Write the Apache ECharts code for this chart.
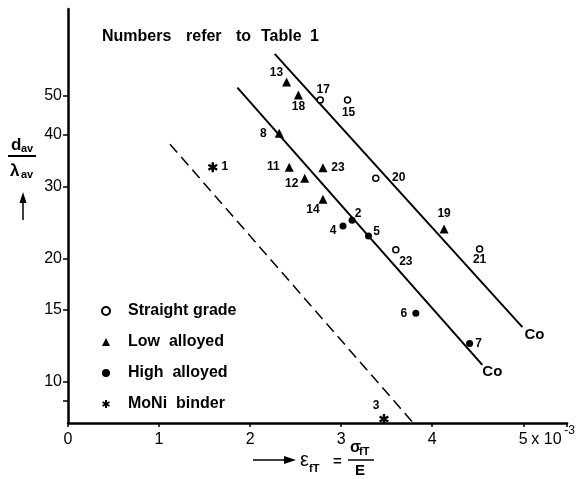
<!DOCTYPE html>
<html>
<head>
<meta charset="utf-8">
<script src="https://cdn.jsdelivr.net/npm/echarts@6/dist/echarts.min.js"></script>
<style>
  html, body { margin: 0; padding: 0; background: #fff; }
  #chart { width: 588px; height: 479px; }
</style>
</head>
<body>
<div id="chart"></div>
<script>
// Straight grade (open circles)
const straightIds = ['17', '15', '20', '23', '21'];
const straightX = [2.77, 3.07, 3.38, 3.60, 4.52];
const straightY = [48.7, 48.7, 31.4, 21.0, 21.1];

// Low alloyed (triangles)
const lowIds = ['13', '18', '8', '11', '12', '23', '14', '19'];
const lowX = [2.40, 2.53, 2.32, 2.43, 2.60, 2.80, 2.80, 4.13];
const lowY = [53.9, 50.1, 40.4, 33.4, 31.4, 33.3, 27.9, 23.6];

// High alloyed (filled circles)
const highIds = ['2', '4', '5', '6', '7'];
const highX = [3.12, 3.02, 3.30, 3.82, 4.41];
const highY = [24.8, 24.0, 22.7, 14.7, 12.4];

// MoNi binder (asterisks)
const moniIds = ['1', '3'];
const moniX = [1.59, 3.47];
const moniY = [33.4, 8.12];

// Trend lines
const upperLineX = [2.27, 4.99];
const upperLineY = [63.1, 13.6];
const middleLineX = [1.86, 4.55];
const middleLineY = [52.2, 11.0];
const dashedLineX = [1.12, 3.79];
const dashedLineY = [38.0, 7.95];

// Axis ticks
const xTicks = [0, 1, 2, 3, 4, 5];
const yTickValues = [9, 10, 15, 20, 30, 40, 50];
const yLabelValues = [10, 15, 20, 30, 40, 50];

// Where each sample number sits relative to its marker [dx, dy]
const labelOffsets = {
  straight: { '17': [3, -10], '15': [1, 13], '20': [23, 0], '23': [10, 12], '21': [0, 11] },
  low: { '13': [-10, -9], '18': [0, 12], '8': [-16, 0], '11': [-16, 0], '12': [-13, 6],
         '23': [15, 0], '14': [-10, 10], '19': [0, -15] },
  high: { '2': [6, -7], '4': [-10, 5], '5': [8, -4], '6': [-12, 0], '7': [9, 0] },
  moni: { '1': [12, 0], '3': [-8, -13] }
};

const FONT = '"Liberation Sans", Arial, sans-serif';
// six-armed asterisk built from three crossing bars
const asterisk = 'path://M-1.2,-5L1.2,-5L1.2,5L-1.2,5Z M3.73,-3.54L4.93,-1.46L-3.73,3.54L-4.93,1.46Z M-4.93,-1.46L-3.73,-3.54L4.93,1.46L3.73,3.54Z';

function points(key, ids, xs, ys) {
  return ids.map((id, i) => ({
    value: [xs[i], ys[i]],
    label: { offset: labelOffsets[key][id] },
    id: id
  }));
}

function pairs(xs, ys) {
  return xs.map((x, i) => [x, ys[i]]);
}

const pointLabel = {
  show: true,
  position: 'inside',
  formatter: p => p.data.id,
  color: '#000',
  opacity: 1,
  textBorderWidth: 0,
  textBorderColor: 'transparent',
  fontFamily: FONT,
  fontWeight: 'bold',
  fontSize: 12
};

const chart = echarts.init(document.getElementById('chart'), null, { renderer: 'canvas' });

const option = {
  animation: false,
  backgroundColor: '#fff',
  grid: { left: 68, right: 21, top: 9, bottom: 56, containLabel: false, outerBoundsMode: 'none' },
  xAxis: {
    type: 'value',
    min: 0,
    max: 5.48,
    interval: 1,
    axisLine: { show: true, onZero: false, lineStyle: { color: '#000', width: 2.5 } },
    axisTick: { show: true, length: 4, lineStyle: { color: '#000', width: 1.5 } },
    axisLabel: {
      color: '#000', fontSize: 16, fontFamily: FONT, margin: 9,
      formatter: v => (xTicks.indexOf(v) >= 0 ? String(v) : '')
    },
    splitLine: { show: false }
  },
  yAxis: {
    type: 'log',
    logBase: 10,
    min: 7.94,
    max: 81.2,
    axisLine: { show: true, onZero: false, lineStyle: { color: '#000', width: 2.5 } },
    axisTick: { show: true, length: 5, customValues: yTickValues, lineStyle: { color: '#000', width: 1.5 } },
    axisLabel: { color: '#000', fontSize: 16, fontFamily: FONT, margin: 6, customValues: yLabelValues },
    splitLine: { show: false },
    minorTick: { show: false }
  },
  legend: {
    orient: 'vertical',
    left: 96,
    top: 298,
    itemWidth: 8,
    itemHeight: 8,
    itemGap: 15,
    itemStyle: { opacity: 1 },
    textStyle: { color: '#000', fontFamily: FONT, fontWeight: 'bold', fontSize: 16, lineHeight: 16, padding: [0, 0, 0, 13] },
    data: ['Straight grade', 'Low  alloyed', 'High  alloyed', 'MoNi  binder']
  },
  series: [
    {
      type: 'line', name: 'upper', data: pairs(upperLineX, upperLineY),
      showSymbol: false, symbol: 'none', silent: true, z: 1,
      lineStyle: { color: '#000', width: 2 },
      endLabel: { show: true, formatter: 'Co', color: '#000', fontFamily: FONT, fontWeight: 'bold', fontSize: 15, offset: [-6, 8] }
    },
    {
      type: 'line', name: 'middle', data: pairs(middleLineX, middleLineY),
      showSymbol: false, symbol: 'none', silent: true, z: 1,
      lineStyle: { color: '#000', width: 2 },
      endLabel: { show: true, formatter: 'Co', color: '#000', fontFamily: FONT, fontWeight: 'bold', fontSize: 15, offset: [-8, 7] }
    },
    {
      type: 'line', name: 'dashed', data: pairs(dashedLineX, dashedLineY),
      showSymbol: false, symbol: 'none', silent: true, z: 1,
      lineStyle: { color: '#000', width: 1.5, type: [11, 6] }
    },
    {
      type: 'scatter', name: 'Straight grade', symbol: 'circle', symbolSize: 6, z: 3,
      itemStyle: { color: '#fff', borderColor: '#000', borderWidth: 1.5, opacity: 1 },
      label: pointLabel,
      data: points('straight', straightIds, straightX, straightY)
    },
    {
      type: 'scatter', name: 'Low  alloyed', symbol: 'triangle', symbolSize: 9, z: 3,
      itemStyle: { color: '#000', opacity: 1 },
      label: pointLabel,
      data: points('low', lowIds, lowX, lowY)
    },
    {
      type: 'scatter', name: 'High  alloyed', symbol: 'circle', symbolSize: 7, z: 3,
      itemStyle: { color: '#000', opacity: 1 },
      label: pointLabel,
      data: points('high', highIds, highX, highY)
    },
    {
      type: 'scatter', name: 'MoNi  binder', symbol: asterisk, symbolSize: 10, z: 3,
      itemStyle: { color: '#000', opacity: 1 },
      label: pointLabel,
      data: points('moni', moniIds, moniX, moniY)
    }
  ]
};

chart.setOption(option);

// Axis titles, note and the exponent of the x scale
const x5 = chart.convertToPixel({ xAxisIndex: 0 }, 5);
const xAxisY = chart.convertToPixel({ yAxisIndex: 0 }, 7.94);
const txt = (x, y, text, size, extra) => ({
  type: 'text', x: x, y: y,
  style: Object.assign({ text: text, fill: '#000', font: 'bold ' + size + 'px ' + FONT, verticalAlign: 'middle' }, extra || {})
});

chart.setOption({
  graphic: [
    txt(102, 37, 'Numbers', 16),
    txt(186, 37, 'refer', 16),
    txt(236, 37, 'to', 16),
    txt(261, 37, 'Table', 16),
    txt(310, 37, '1', 16),
    // exponent after the "5" tick label
    txt(x5 + 8, xAxisY + 17, 'x 10', 16, { font: '16px ' + FONT }),
    txt(x5 + 41, xAxisY + 8, '-3', 12, { font: '12px ' + FONT }),
    // y axis title: d_av / lambda_av with arrow
    txt(11, 145, 'd', 17),
    txt(21, 149, 'av', 11),
    { type: 'line', shape: { x1: 8, y1: 156, x2: 36, y2: 156 }, style: { stroke: '#000', lineWidth: 2 } },
    txt(10, 171, 'λ', 17),
    txt(21, 175, 'av', 11),
    { type: 'line', shape: { x1: 23, y1: 220, x2: 23, y2: 200 }, style: { stroke: '#000', lineWidth: 1.5 } },
    { type: 'polygon', shape: { points: [[23, 192], [19.5, 203], [26.5, 203]] }, style: { fill: '#000' } },
    // x axis title: arrow, epsilon_fT = sigma_fT / E
    { type: 'line', shape: { x1: 253, y1: 460, x2: 286, y2: 460 }, style: { stroke: '#000', lineWidth: 1.5 } },
    { type: 'polygon', shape: { points: [[296, 460], [284, 456], [284, 464]] }, style: { fill: '#000' } },
    txt(300, 460, 'ε', 20, { font: '20px ' + FONT }),
    txt(309, 469, 'fT', 11),
    txt(333, 462, '=', 15),
    txt(350, 448, 'σ', 16),
    txt(359, 452, 'fT', 11),
    { type: 'line', shape: { x1: 348, y1: 460, x2: 374, y2: 460 }, style: { stroke: '#000', lineWidth: 1.5 } },
    txt(355, 471, 'E', 15)
  ]
});
</script>
</body>
</html>
